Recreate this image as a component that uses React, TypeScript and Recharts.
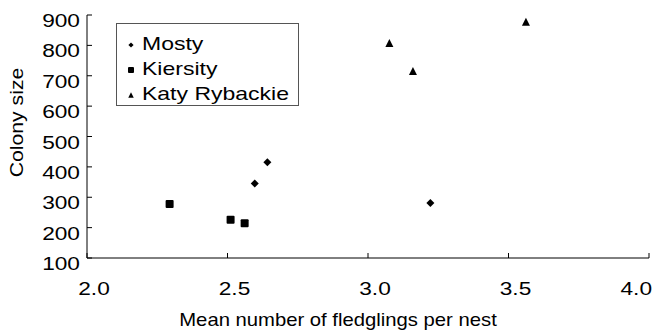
import { Label, Scatter, ScatterChart, XAxis, YAxis } from "recharts"

const xTicks = [2.0, 2.5, 3.0, 3.5, 4.0]
const yTicks = [100, 200, 300, 400, 500, 600, 700, 800, 900]

const mosty = [
    { x: 2.642, y: 415 },
    { x: 2.597, y: 345 },
    { x: 3.222, y: 281 },
]
const kiersity = [
    { x: 2.294, y: 278 },
    { x: 2.511, y: 226 },
    { x: 2.561, y: 214 },
]
const katy = [
    { x: 3.076, y: 808 },
    { x: 3.16, y: 716 },
    { x: 3.562, y: 878 },
]
const seriesNames = ["Mosty", "Kiersity", "Katy Rybackie"]

const FONT = "'Liberation Sans', Arial, sans-serif"

const Diamond = ({ cx, cy, r = 4 }: any) => (
    <polygon points={`${cx},${cy - r} ${cx + r},${cy} ${cx},${cy + r} ${cx - r},${cy}`} fill="#000" />
)
const Square = ({ cx, cy, s = 8 }: any) => (
    <rect x={cx - s / 2} y={cy - s / 2} width={s} height={s} rx={1} fill="#000" />
)
const Triangle = ({ cx, cy, s = 8 }: any) => (
    <polygon points={`${cx},${cy - s / 2} ${cx + s / 2},${cy + s / 2} ${cx - s / 2},${cy + s / 2}`} fill="#000" />
)

// the source figure's text is stretched sideways, so scale it horizontally
const Wide = ({ x, y, sx, rotate = 0, anchor = "start", size = 18.6, children }: any) => (
    <g transform={`translate(${x},${y}) rotate(${rotate}) scale(${sx},1)`}>
        <text x={0} y={0} textAnchor={anchor} fontSize={size} fontFamily={FONT} fill="#000">
            {children}
        </text>
    </g>
)

const XTick = ({ x, y, payload, index }: any) => {
    const last = index === xTicks.length - 1
    return (
        <Wide x={last ? x + 3 : x + 7} y={y + 14} sx={1.22} anchor={last ? "end" : "middle"}>
            {payload.value.toFixed(1)}
        </Wide>
    )
}

const YTick = ({ x, y, payload }: any) => (
    <Wide x={x} y={y + 12} sx={1.22} anchor="end">
        {payload.value}
    </Wide>
)

const icons = [
    <Diamond cx={6} cy={6} r={2.6} />,
    <Square cx={6} cy={6} s={6} />,
    <Triangle cx={6} cy={6} s={5.5} />,
]

export default function App() {
    return (
        <div style={{ position: "absolute", left: 0, top: 0, width: 657, height: 332, background: "#fff" }}>
            <ScatterChart width={657} height={332} margin={{ top: 15, right: 8, bottom: 0, left: 0 }}>
                <XAxis
                    type="number"
                    dataKey="x"
                    domain={[2, 4]}
                    ticks={xTicks}
                    height={74}
                    stroke="#000"
                    tickSize={-5}
                    tickMargin={28}
                    tick={<XTick />}
                    interval={0}
                >
                    <Label
                        content={({ viewBox }: any) => (
                            <Wide x={viewBox.x + viewBox.width / 2 - 30} y={viewBox.y + 68} sx={1.09} anchor="middle">
                                Mean number of fledglings per nest
                            </Wide>
                        )}
                    />
                </XAxis>
                <YAxis
                    type="number"
                    dataKey="y"
                    domain={[100, 900]}
                    ticks={yTicks}
                    width={87}
                    stroke="#000"
                    tickSize={-5}
                    tickMargin={12}
                    tick={<YTick />}
                    interval={0}
                >
                    <Label
                        content={({ viewBox }: any) => (
                            <Wide x={23} y={viewBox.y + viewBox.height / 2 - 14} rotate={-90} sx={1.14} anchor="middle">
                                Colony size
                            </Wide>
                        )}
                    />
                </YAxis>
                <Scatter name={seriesNames[0]} data={mosty} shape={<Diamond r={4} />} isAnimationActive={false} />
                <Scatter name={seriesNames[1]} data={kiersity} shape={<Square s={8} />} isAnimationActive={false} />
                <Scatter name={seriesNames[2]} data={katy} shape={<Triangle s={8} />} isAnimationActive={false} />
            </ScatterChart>
            <div
                style={{
                    position: "absolute",
                    left: 116,
                    top: 23,
                    width: 183,
                    height: 83,
                    border: "1px solid #555",
                    boxSizing: "border-box",
                    fontFamily: FONT,
                    fontSize: 17.7,
                    paddingTop: 8,
                }}
            >
                {seriesNames.map((name, i) => (
                    <div key={name} style={{ display: "flex", alignItems: "center", height: 25, paddingLeft: 8 }}>
                        <svg width={12} height={12}>{icons[i]}</svg>
                        <span style={{ marginLeft: 5, display: "inline-block", transform: "scaleX(1.3)", transformOrigin: "left center", whiteSpace: "nowrap" }}>
                            {name}
                        </span>
                    </div>
                ))}
            </div>
        </div>
    )
}
